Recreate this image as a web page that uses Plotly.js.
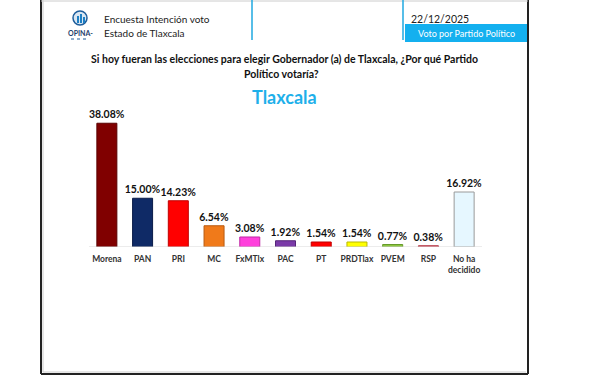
<!DOCTYPE html>
<html>
<head>
<meta charset="utf-8">
<script src="https://cdn.plot.ly/plotly-3.0.1.min.js"></script>
<style>html,body{margin:0;padding:0;background:#fff;}#chart{width:600px;height:375px;}</style>
</head>
<body>
<div id="chart"></div>
<script>
const parties = ["Morena", "PAN", "PRI", "MC", "FxMTlx", "PAC", "PT", "PRDTlax", "PVEM", "RSP", "No ha<br>decidido"];
const votes = [38.08, 15.00, 14.23, 6.54, 3.08, 1.92, 1.54, 1.54, 0.77, 0.38, 16.92];
const barColors = ["#800000", "#0f2a66", "#ff0000", "#f07a1a", "#ff3fdc", "#7a3aa8", "#ff0000", "#ffff00", "#8cc63f", "#e8505b", "#e6f7ff"];
const borderColors = ["#5a0000", "#0a1c48", "#c00000", "#b85a10", "#c02aa5", "#552578", "#c00000", "#b8b800", "#669a2a", "#b03040", "#9a9a9a"];

const L = 89, R = 482, B = 247, T = 117;
const W = 600, H = 375;
const px = x => (x - L) / (R - L);
const py = y => (B - y) / (B - T);

const shapes = [
  {type:'line', xref:'paper', yref:'paper', x0:px(41), x1:px(41), y0:py(0), y1:py(374), line:{color:'#222', width:2}},
  {type:'line', xref:'paper', yref:'paper', x0:px(528), x1:px(528), y0:py(0), y1:py(374), line:{color:'#222', width:2}},
  {type:'line', xref:'paper', yref:'paper', x0:px(41), x1:px(528), y0:py(374), y1:py(374), line:{color:'#222', width:2}},
  {type:'line', xref:'paper', yref:'paper', x0:px(43), x1:px(43), y0:py(0), y1:py(372), line:{color:'#ccc', width:1}},
  {type:'line', xref:'paper', yref:'paper', x0:px(43), x1:px(526), y0:py(372), y1:py(372), line:{color:'#ccc', width:1}},
  {type:'line', xref:'paper', yref:'paper', x0:px(41), x1:px(528), y0:py(1), y1:py(1), line:{color:'#ccc', width:1}},
  {type:'line', xref:'paper', yref:'paper', x0:px(252), x1:px(252), y0:py(0), y1:py(40), line:{color:'#1fa9e1', width:1.5}},
  {type:'line', xref:'paper', yref:'paper', x0:px(403), x1:px(403), y0:py(0), y1:py(40), line:{color:'#1fa9e1', width:1.5}},
  {type:'rect', xref:'paper', yref:'paper', x0:px(405), x1:px(527), y0:py(42), y1:py(24), fillcolor:'#14b0ef', line:{width:0}},
  {type:'circle', xref:'paper', yref:'paper', x0:px(73), x1:px(87), y0:py(25), y1:py(11), fillcolor:'#d9e6f2', line:{color:'#1d5d9b', width:1.5}},
  {type:'rect', xref:'paper', yref:'paper', x0:px(77), x1:px(79), y0:py(23), y1:py(16), fillcolor:'#1d7fc4', line:{width:0}},
  {type:'rect', xref:'paper', yref:'paper', x0:px(80), x1:px(82), y0:py(23), y1:py(14), fillcolor:'#1d7fc4', line:{width:0}},
  {type:'rect', xref:'paper', yref:'paper', x0:px(83), x1:px(85), y0:py(23), y1:py(17), fillcolor:'#1d7fc4', line:{width:0}},
  {type:'line', xref:'paper', yref:'paper', x0:px(71), x1:px(89), y0:py(39), y1:py(39), line:{color:'#1d5d9b', width:1, dash:'dot'}},
  {type:'line', xref:'paper', yref:'y', x0:0, x1:1, y0:0, y1:0, line:{color:'#d8d8d8', width:1}}
];

const hdrFont = {family:'Lato, "Open Sans", sans-serif', size:10, color:'#222'};
const annotations = [
  {xref:'paper', yref:'paper', x:px(102), y:py(19), xanchor:'left', yanchor:'middle', text:'Encuesta Intención voto', showarrow:false, font:hdrFont},
  {xref:'paper', yref:'paper', x:px(102), y:py(33), xanchor:'left', yanchor:'middle', text:'Estado de Tlaxcala', showarrow:false, font:hdrFont},
  {xref:'paper', yref:'paper', x:px(409), y:py(19), xanchor:'left', yanchor:'middle', text:'22/12/2025', showarrow:false, font:{family:'Lato, sans-serif', size:10.5, color:'#222'}},
  {xref:'paper', yref:'paper', x:px(466), y:py(33.5), xanchor:'center', yanchor:'middle', text:'Voto por Partido Político', showarrow:false, font:{family:'Lato, sans-serif', size:9, color:'#fff'}},
  {xref:'paper', yref:'paper', x:px(80), y:py(33), xanchor:'center', yanchor:'middle', text:'<b>OPINA-</b>', showarrow:false, font:{family:'Lato, sans-serif', size:7, color:'#1d3d6b'}},
  {xref:'paper', yref:'paper', x:px(284), y:py(59), xanchor:'center', yanchor:'middle', text:'<b>Si hoy fueran las elecciones para elegir Gobernador (a) de Tlaxcala, ¿Por qué Partido</b>', showarrow:false, font:{family:'Lato, sans-serif', size:10.5, color:'#111'}},
  {xref:'paper', yref:'paper', x:px(281), y:py(74), xanchor:'center', yanchor:'middle', text:'<b>Político votaría?</b>', showarrow:false, font:{family:'Lato, sans-serif', size:10.5, color:'#111'}},
  {xref:'paper', yref:'paper', x:px(284), y:py(97), xanchor:'center', yanchor:'middle', text:'<b>Tlaxcala</b>', showarrow:false, font:{family:'Lato, sans-serif', size:18, color:'#1eb0ea'}}
];

const trace = {
  type:'bar',
  x: parties,
  y: votes,
  marker:{color: barColors, line:{color: borderColors, width:1}},
  texttemplate:'<b>%{y:.2f}%</b>',
  textposition:'outside',
  constraintext:'none',
  cliponaxis:false,
  textfont:{family:'Lato, sans-serif', size:10.5, color:'#111'},
  hoverinfo:'none'
};

const layout = {
  width:W, height:H,
  margin:{l:L, r:W-R, t:T, b:H-B, pad:0},
  paper_bgcolor:'#fff', plot_bgcolor:'rgba(0,0,0,0)',
  showlegend:false,
  bargap:0.44,
  xaxis:{type:'category', showgrid:false, zeroline:false, showline:false, ticks:'', tickangle:0,
         ticklabelstandoff:5,
         tickfont:{family:'Lato, sans-serif', size:8.5, color:'#333', weight:'bold'}},
  yaxis:{range:[0,40], visible:false, showgrid:false, zeroline:false},
  shapes: shapes,
  annotations: annotations,
  font:{family:'Lato, sans-serif'}
};

Plotly.newPlot('chart', [trace], layout, {displayModeBar:false, staticPlot:true});
</script>
</body>
</html>
